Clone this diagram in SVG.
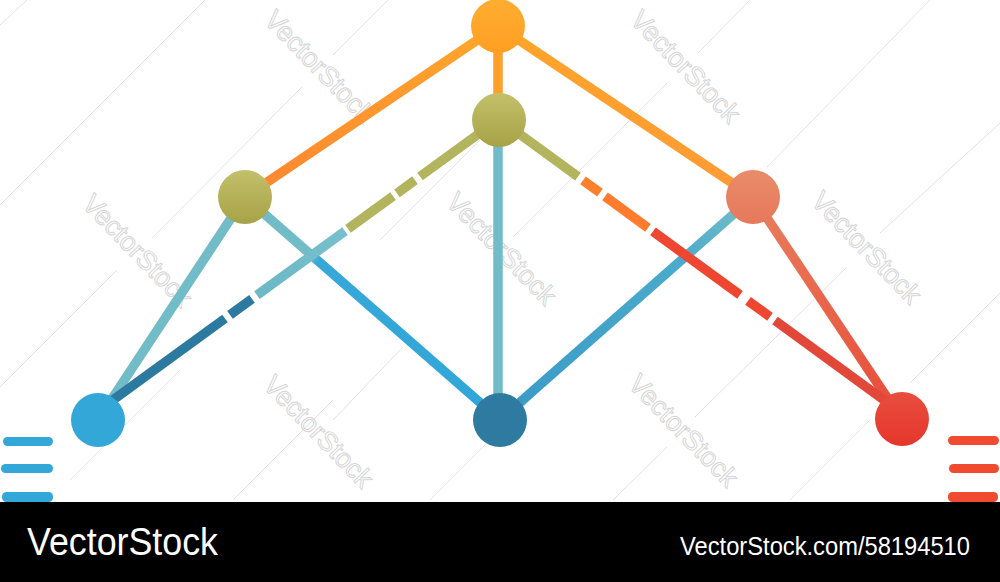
<svg xmlns="http://www.w3.org/2000/svg" width="1000" height="582" viewBox="0 0 1000 582">
<defs>
<linearGradient id="gOlive" x1="0" y1="0" x2="0" y2="1"><stop offset="0" stop-color="#c3c06a"/><stop offset="1" stop-color="#a7a247"/></linearGradient>
<linearGradient id="gTop" x1="0" y1="0" x2="0" y2="1"><stop offset="0" stop-color="#ffad32"/><stop offset="1" stop-color="#ff9f22"/></linearGradient>
<linearGradient id="gSalmon" x1="0" y1="0" x2="0" y2="1"><stop offset="0" stop-color="#e88c6a"/><stop offset="1" stop-color="#e6785a"/></linearGradient>
<linearGradient id="gRed" x1="0" y1="0" x2="0" y2="1"><stop offset="0" stop-color="#e84e3e"/><stop offset="1" stop-color="#e6362c"/></linearGradient>
<linearGradient id="gTL" gradientUnits="userSpaceOnUse" x1="498" y1="26" x2="245" y2="197"><stop offset="0" stop-color="#ffa82c"/><stop offset="1" stop-color="#ff8530"/></linearGradient>
<linearGradient id="gTR" gradientUnits="userSpaceOnUse" x1="498" y1="26" x2="753" y2="197"><stop offset="0" stop-color="#ffa52c"/><stop offset="1" stop-color="#ff9a34"/></linearGradient>
<linearGradient id="gLB" gradientUnits="userSpaceOnUse" x1="245" y1="197" x2="500" y2="420"><stop offset="0.25" stop-color="#72bcc8"/><stop offset="0.29" stop-color="#36a8d8"/><stop offset="1" stop-color="#30a6d8"/></linearGradient>
<linearGradient id="gRB" gradientUnits="userSpaceOnUse" x1="753" y1="197" x2="500" y2="420"><stop offset="0.05" stop-color="#72bcc8"/><stop offset="0.28" stop-color="#4aabcc"/><stop offset="1" stop-color="#3a9ac6"/></linearGradient>
<linearGradient id="gRR" gradientUnits="userSpaceOnUse" x1="753" y1="197" x2="902" y2="420"><stop offset="0" stop-color="#e8805e"/><stop offset="1" stop-color="#e84a36"/></linearGradient>
<linearGradient id="gTeal" gradientUnits="userSpaceOnUse" x1="345" y1="231" x2="257" y2="295"><stop offset="0" stop-color="#78bfcc"/><stop offset="1" stop-color="#6cb8c6"/></linearGradient>
</defs>
<style>
.c{stroke-width:9.5;fill:none;stroke-linecap:butt}
.wm{font-family:"Liberation Sans",Arial,sans-serif;font-size:27px;fill:#ffffff;stroke:#d6d6d6;stroke-width:1;text-anchor:middle;dominant-baseline:middle}
.wl{stroke:#e2e2e2;stroke-width:1;fill:none}
.bar{font-family:"Liberation Sans",Arial,sans-serif;fill:#ffffff}
</style>
<rect x="0" y="0" width="1000" height="582" fill="#ffffff"/>
<g id="watermark-lines">
<line class="wl" x1="0" y1="25" x2="27" y2="0"/>
<line class="wl" x1="0" y1="205" x2="205" y2="0"/>
<line class="wl" x1="152" y1="238" x2="302" y2="87"/>
<line class="wl" x1="0" y1="387" x2="117" y2="270"/>
<line class="wl" x1="333" y1="55" x2="388" y2="0"/>
<line class="wl" x1="233" y1="500" x2="333" y2="400"/>
<line class="wl" x1="333" y1="420" x2="403" y2="347"/>
<line class="wl" x1="70" y1="480" x2="180" y2="370"/>
<line class="wl" x1="380" y1="240" x2="480" y2="140"/>
<line class="wl" x1="698" y1="53" x2="750" y2="0"/>
<line class="wl" x1="513" y1="237" x2="667" y2="83"/>
<line class="wl" x1="767" y1="167" x2="930" y2="0"/>
<line class="wl" x1="880" y1="233" x2="1000" y2="123"/>
<line class="wl" x1="695" y1="417" x2="847" y2="267"/>
<line class="wl" x1="613" y1="500" x2="667" y2="447"/>
<line class="wl" x1="790" y1="500" x2="870" y2="420"/>
<line class="wl" x1="910" y1="383" x2="1000" y2="293"/>
<line class="wl" x1="430" y1="500" x2="540" y2="390"/>
</g>
<g id="watermarks">
<text class="wm" transform="translate(318,68) rotate(46)">VectorStock</text>
<text class="wm" transform="translate(684,68) rotate(46)">VectorStock</text>
<text class="wm" transform="translate(136,252) rotate(46)">VectorStock</text>
<text class="wm" transform="translate(500,250) rotate(46)">VectorStock</text>
<text class="wm" transform="translate(865,249) rotate(46)">VectorStock</text>
<text class="wm" transform="translate(317,433) rotate(46)">VectorStock</text>
<text class="wm" transform="translate(682,432) rotate(46)">VectorStock</text>
</g>
<g id="connectors">
<line class="c" x1="498" y1="26" x2="245" y2="197" stroke="url(#gTL)"/>
<line class="c" x1="498" y1="26" x2="753" y2="197" stroke="url(#gTR)"/>
<line class="c" x1="498" y1="26" x2="498" y2="120" stroke="#ffa02a"/>
<line class="c" x1="498" y1="120" x2="498" y2="420" stroke="#72bcc8"/>
<line class="c" x1="245" y1="197" x2="98" y2="420" stroke="#72bcc8"/>
<line class="c" x1="245" y1="197" x2="500" y2="420" stroke="url(#gLB)"/>
<line class="c" x1="753" y1="197" x2="500" y2="420" stroke="url(#gRB)"/>
<line class="c" x1="753" y1="197" x2="902" y2="420" stroke="url(#gRR)"/>
<g id="dashed-left">
<line class="c" x1="499" y1="119" x2="420" y2="176.5" stroke="#b3b45e"/>
<line class="c" x1="415" y1="180.2" x2="397" y2="193.3" stroke="#b3b45e"/>
<line class="c" x1="393" y1="196.2" x2="348" y2="228.9" stroke="#b3b45e"/>
<line class="c" x1="345" y1="231.1" x2="257" y2="295.2" stroke="url(#gTeal)"/>
<line class="c" x1="252" y1="298.8" x2="230" y2="314.8" stroke="#2d7aa0"/>
<line class="c" x1="225" y1="318.5" x2="98" y2="410.9" stroke="#2d7aa0"/>
</g>
<g id="dashed-right">
<line class="c" x1="499" y1="119" x2="578" y2="176.7" stroke="#b3b45e"/>
<line class="c" x1="583" y1="180.3" x2="600" y2="192.7" stroke="#ff7f2e"/>
<line class="c" x1="605" y1="196.4" x2="648" y2="227.8" stroke="#ff7c2e"/>
<line class="c" x1="653" y1="231.4" x2="740" y2="294.9" stroke="#ee4630"/>
<line class="c" x1="748" y1="300.8" x2="770" y2="316.8" stroke="#ee4630"/>
<line class="c" x1="775" y1="320.5" x2="902" y2="413.2" stroke="#e2483a"/>
</g>
</g>
<g id="node-top"><circle cx="498" cy="26" r="27" fill="url(#gTop)"/></g>
<g id="node-mid"><circle cx="499" cy="120" r="27" fill="url(#gOlive)"/></g>
<g id="node-left"><circle cx="245" cy="197" r="27" fill="url(#gOlive)"/></g>
<g id="node-right"><circle cx="753" cy="197" r="27" fill="url(#gSalmon)"/></g>
<g id="node-bottom-left"><circle cx="98" cy="420" r="27" fill="#33a7d8"/></g>
<g id="node-bottom-center"><circle cx="500" cy="420" r="27" fill="#2e7aa0"/></g>
<g id="node-bottom-right"><circle cx="902" cy="419" r="27" fill="url(#gRed)"/></g>
<g id="legend-left" fill="#33a7d8">
<rect x="3" y="437" width="50" height="9" rx="4.5"/>
<rect x="1" y="464" width="52" height="9" rx="4.5"/>
<rect x="2" y="492" width="51" height="10" rx="4.5"/>
</g>
<g id="legend-right" fill="#f04a30">
<rect x="948" y="436" width="51" height="9" rx="4.5"/>
<rect x="949" y="464" width="50" height="9" rx="4.5"/>
<rect x="948" y="492" width="50" height="10" rx="4.5"/>
</g>
<g id="footer">
<rect x="0" y="502" width="1000" height="80" fill="#000000"/>
<text class="bar" x="27" y="555" font-size="38" textLength="191" lengthAdjust="spacingAndGlyphs">VectorStock</text>
<text class="bar" x="680" y="555" font-size="26" textLength="290" lengthAdjust="spacingAndGlyphs">VectorStock.com/58194510</text>
</g>
</svg>
